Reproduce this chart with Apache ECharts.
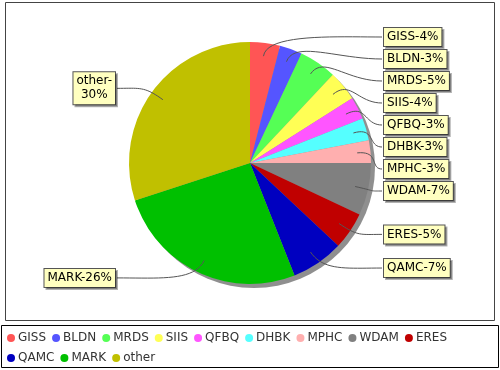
<!DOCTYPE html>
<html><head><meta charset="utf-8">
<script src="https://cdn.jsdelivr.net/npm/echarts@6/dist/echarts.min.js"></script>
<style>html,body{margin:0;padding:0;background:#fff}#c{width:500px;height:370px}</style>
</head><body><div id="c"></div>
<script>
const categories = ['GISS','BLDN','MRDS','SIIS','QFBQ','DHBK','MPHC','WDAM','ERES','QAMC','MARK','other'];
const values = [4,3,5,4,3,3,3,7,5,7,26,30];
const colors = ['#FF5555','#5555FF','#55FF55','#FFFF55','#FF55FF','#55FFFF','#FFAFAF','#808080','#C00000','#0000C0','#00C000','#C0C000'];

const CX = 250, CY = 163, R = 121;
const RIGHT_LABEL_X = 383, LEFT_LABEL_X = 116;

function cubic(p0, c1, c2, p3, n){
  const out = [];
  for (let i = 0; i <= n; i++) {
    const t = i / n, u = 1 - t;
    const a = u*u*u, b = 3*u*u*t, c = 3*u*t*t, d = t*t*t;
    out.push([a*p0[0]+b*c1[0]+c*c2[0]+d*p3[0], a*p0[1]+b*c1[1]+c*c2[1]+d*p3[1]]);
  }
  return out;
}

const pieData = categories.map((c,i)=>({name:c, value:values[i]}));
const font = 'DejaVu Sans';
const chart = echarts.init(document.getElementById('c'), null, {renderer:'canvas'});
chart.setOption({
  animation:false,
  backgroundColor:'#fff',
  color: colors,
  textStyle:{fontFamily:font},
  graphic:[
    {type:'rect', shape:{x:5.5,y:2.5,width:489,height:318}, style:{fill:'none',stroke:'#444',lineWidth:1}, z:-10},
    {type:'rect', shape:{x:1.5,y:325.5,width:497,height:42}, style:{fill:'#fff',stroke:'#000',lineWidth:1}, z:-10}
  ],
  legend:{
    data: categories,
    left:7, top:331, width:486,
    icon:'circle', itemWidth:8, itemHeight:8, itemGap:6,
    textStyle:{fontFamily:font, fontSize:12, color:'#333', padding:[0,0,0,-2], lineHeight:14},
    padding:[0,0,0,0]
  },
  series:[
    {
      type:'pie', silent:true, center:[CX+4,CY+4], radius:R, z:1,
      label:{show:false}, labelLine:{show:false},
      itemStyle:{color:'#8f8f8f'},
      data:[{value:1, name:'_shadow'}],
      legendHoverLink:false
    },
    {
      type:'pie', center:[CX,CY], radius:R, z:2,
      startAngle:90, clockwise:true,
      data: pieData,
      itemStyle:{borderWidth:0},
      label:{show:false}, labelLine:{show:false}
    },
    {
      type:'pie', center:[CX,CY], radius:R, z:3, silent:true,
      startAngle:90, clockwise:true, percentPrecision:0,
      avoidLabelOverlap:true,
      data: pieData,
      itemStyle:{color:'rgba(0,0,0,0)', borderWidth:0},
      label:{
        show:true, position:'outside',
        formatter: p => p.name === 'other' ? 'other-\n' + p.percent + '%' : p.name + '-' + p.percent + '%',
        fontFamily:font, fontSize:12, color:'#000', lineHeight:14,
        backgroundColor:'#FFFFC0', borderColor:'#555', borderWidth:1,
        padding:[2,3,2,3],
        shadowColor:'rgba(0,0,0,0.3)', shadowOffsetX:2, shadowOffsetY:2, shadowBlur:0
      },
      labelLine:{show:true, length:6, length2:10, smooth:false, lineStyle:{color:'#555', width:1}},
      labelLayout: function(p){
        const rect = p.labelRect;
        const pts = p.labelLinePoints;
        if (!pts) return {};
        const right = pts[0][0] >= CX;
        const ym = rect.y + rect.height/2;
        const bx = right ? RIGHT_LABEL_X : LEFT_LABEL_X;
        const cxLabel = right ? bx + rect.width/2 : bx - rect.width/2;
        const ex = right ? bx - 1 : bx + 1;
        const dx = (pts[0][0]-CX)/R, dy = (pts[0][1]-CY)/R;
        const p0 = [CX + dx*R*0.89, CY + dy*R*0.89];
        const c1 = [CX + dx*R*1.08, CY + dy*R*1.08];
        const span = Math.abs(ex - p0[0]);
        const c2 = [ex + (right ? -1 : 1) * Math.min(45, span*0.5), ym];
        return {
          x: cxLabel, y: ym, align:'center', verticalAlign:'middle',
          labelLinePoints: cubic(p0, c1, c2, [ex, ym], 20)
        };
      }
    }
  ]
});
</script></body></html>
